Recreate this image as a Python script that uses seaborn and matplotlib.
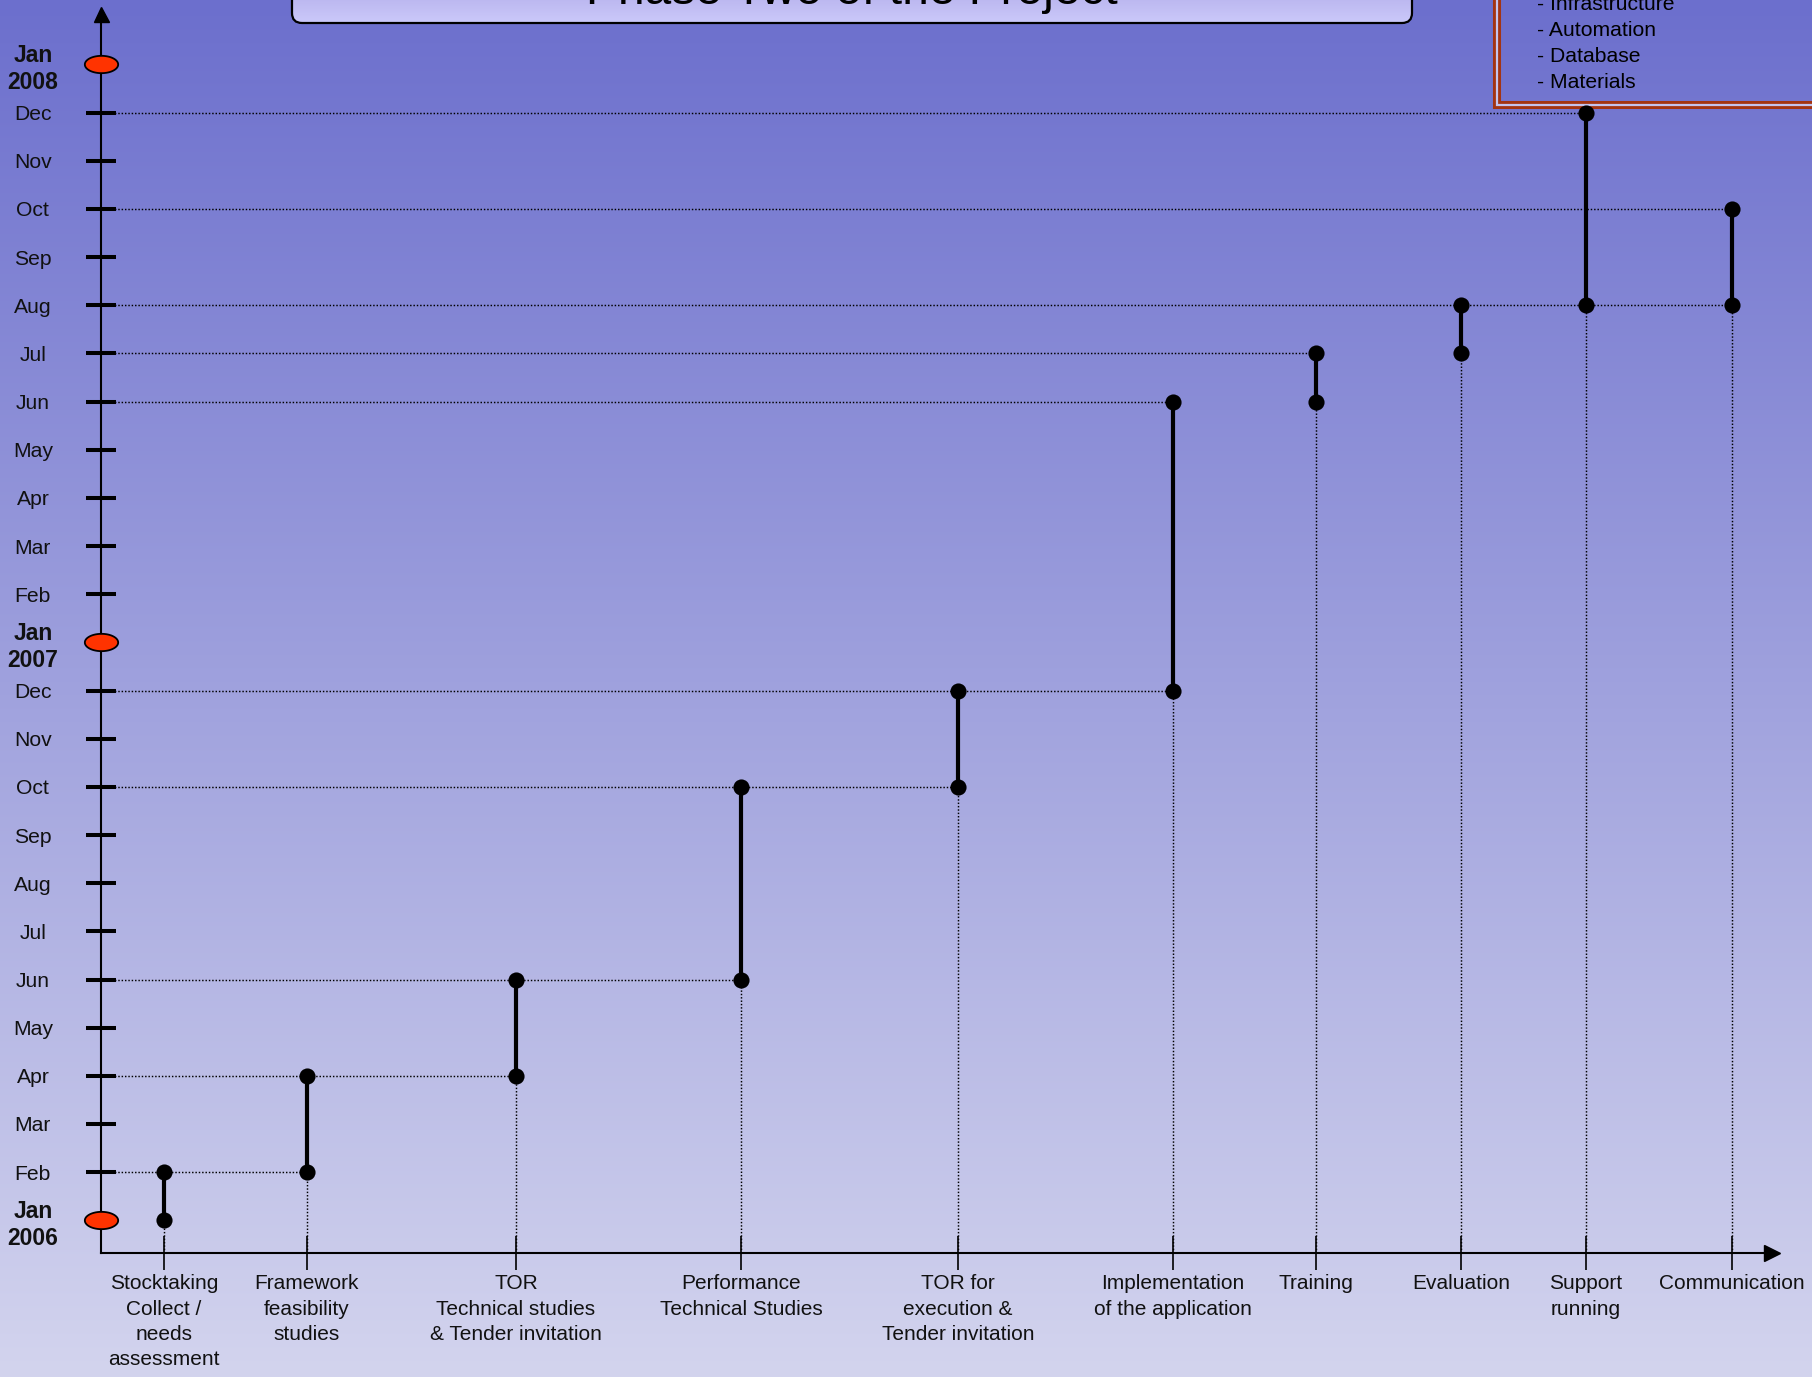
import numpy as np
import pandas as pd
import matplotlib
matplotlib.use("Agg")
import matplotlib.pyplot as plt
import seaborn as sns
from matplotlib.path import Path
from matplotlib.patches import FancyBboxPatch, Rectangle

# ---------------- data ----------------
title = "Phase Two of the Project"
tasks = [
    "Stocktaking\nCollect /\nneeds\nassessment",
    "Framework\nfeasibility\nstudies",
    "TOR\nTechnical studies\n& Tender invitation",
    "Performance\nTechnical Studies",
    "TOR for\nexecution &\nTender invitation",
    "Implementation\nof the application",
    "Training",
    "Evaluation",
    "Support\nrunning",
    "Communication",
]
# months counted from Jan 2006 (=0)
start_month = [0, 1, 3, 5, 9, 11, 17, 18, 19, 19]
end_month = [1, 3, 5, 9, 11, 17, 18, 19, 23, 21]

month_labels = ["Jan\n2006", "Feb", "Mar", "Apr", "May", "Jun", "Jul", "Aug", "Sep", "Oct", "Nov", "Dec",
                "Jan\n2007", "Feb", "Mar", "Apr", "May", "Jun", "Jul", "Aug", "Sep", "Oct", "Nov", "Dec",
                "Jan\n2008"]
year_marks = [0, 12, 24]

# dotted guide lines: month level -> task reached
guide_month = [1, 3, 5, 9, 11, 17, 18, 19, 21, 23]
guide_task = [1, 2, 3, 4, 5, 5, 6, 9, 9, 8]

legend_items = ["- Infrastructure", "- Automation", "- Database", "- Materials"]

# ---------------- layout ----------------
W, H = 1812, 1377
task_pos = [164, 307, 516, 741, 958, 1173, 1316, 1461, 1586, 1732]
x_left, x_right = 100.5, 1772
y_axis_px, y_top_px = 1252.7, 14
m0_px, px_per_month = 1220.3, 48.16
y_lo = (m0_px - y_axis_px) / px_per_month
y_hi = (m0_px - y_top_px) / px_per_month

sns.set_theme(style="white")
plt.rcParams["font.family"] = ["Liberation Sans", "DejaVu Sans"]

fig = plt.figure(figsize=(W / 100, H / 100), dpi=100)

# background layer (pixel coordinates)
bg = fig.add_axes([0, 0, 1, 1], zorder=0)
bg.set_xlim(0, W)
bg.set_ylim(H, 0)
bg.axis("off")
top_c = np.array([108, 111, 205]) / 255
bot_c = np.array([211, 212, 238]) / 255
t = np.linspace(0, 1, 256)[:, None, None]
grad = top_c[None, None, :] * (1 - t) + bot_c[None, None, :] * t
bg.imshow(grad, extent=[0, W, H, 0], aspect="auto", interpolation="bicubic")

# title box
tb = FancyBboxPatch((292, -60), 1120, 83, boxstyle="round,pad=0,rounding_size=10",
                    facecolor="none", edgecolor="black", linewidth=1.6, zorder=3)
bg.add_patch(tb)
tc1 = np.array([150, 140, 215]) / 255
tc2 = np.array([203, 201, 250]) / 255
t2 = np.linspace(0, 1, 128)[:, None, None]
tgrad = tc1[None, None, :] * (1 - t2) + tc2[None, None, :] * t2
im = bg.imshow(tgrad, extent=[292, 1412, 23, -60], aspect="auto", zorder=2)
im.set_clip_path(tb)
bg.set_xlim(0, W)
bg.set_ylim(H, 0)
bg.text(852, 4, title, ha="center", va="baseline", fontsize=34.5, color="black", zorder=4)

# legend box (double border)
bg.add_patch(Rectangle((1496.7, -40), 400, 40 + 104.7, facecolor="none",
                       edgecolor="#a33412", linewidth=5.8, zorder=3))
bg.add_patch(Rectangle((1496.8, -40), 400, 40 + 104.8, facecolor="none",
                       edgecolor="#c4c4ee", linewidth=1.6, zorder=3))
for i, item in enumerate(legend_items):
    bg.text(1537, 9.5 + 26 * i, item, ha="left", va="baseline", fontsize=15.2, color="black", zorder=4)

# main axes
ax = fig.add_axes([x_left / W, (H - y_axis_px) / H, (x_right - x_left) / W,
                   (y_axis_px - y_top_px) / H], zorder=2)
ax.set_facecolor("none")
ax.set_xlim(x_left, x_right)
ax.set_ylim(y_lo, y_hi)
for s in ["top", "right"]:
    ax.spines[s].set_visible(False)
for s in ["left", "bottom"]:
    ax.spines[s].set_color("black")
    ax.spines[s].set_linewidth(1.5)

# arrows
ax.plot([0], [1], marker="^", markersize=10.8, color="black", transform=ax.transAxes, clip_on=False, zorder=6)
ax.plot([1], [0], marker=">", markersize=11.5, color="black", transform=ax.transAxes, clip_on=False, zorder=6)

dotted = (0, (1, 1.3))
# guide lines
ax.hlines(guide_month, x_left, [task_pos[g] for g in guide_task], colors="black",
          linestyles=[dotted], linewidth=1.05, zorder=3)
ax.vlines(task_pos, y_lo, start_month, colors="black", linestyles=[dotted], linewidth=1.05, zorder=3)

# task bars
ax.vlines(task_pos, start_month, end_month, colors="black", linewidth=3.0, zorder=4)

pts = pd.DataFrame({
    "x": task_pos + task_pos,
    "month": start_month + end_month,
})
sns.scatterplot(data=pts, x="x", y="month", ax=ax, color="black", s=135, linewidth=0,
                zorder=7, clip_on=False, legend=False)

# year ellipses
theta = np.linspace(0, 2 * np.pi, 60)
ell = Path(np.column_stack([np.cos(theta), 0.52 * np.sin(theta)]), closed=True)
ax.scatter([x_left] * len(year_marks), year_marks, marker=ell, s=24.0 ** 2,
           facecolor="#ff3300", edgecolor="black", linewidth=1.3, zorder=8, clip_on=False)

ax.set_xlabel("")
ax.set_ylabel("")

# y ticks (months)
ax.set_yticks(range(len(month_labels)))
ax.set_yticklabels(month_labels)
ax.tick_params(axis="y", direction="inout", length=22.3, width=2.9, color="black",
               pad=37.5, labelsize=15.2, labelcolor="#111111", left=True)
for i, lab in enumerate(ax.get_yticklabels()):
    lab.set_horizontalalignment("center")
    if i in year_marks:
        lab.set_fontweight("bold")
        lab.set_fontsize(16.5)
        lab.set_linespacing(1.22)
for i, tk in enumerate(ax.yaxis.get_major_ticks()):
    if i in year_marks:
        tk.tick1line.set_visible(False)

# x ticks (tasks)
ax.set_xticks(task_pos)
ax.set_xticklabels(tasks)
ax.tick_params(axis="x", direction="inout", length=23.8, width=1.2, color="black",
               pad=3.5, labelsize=15, labelcolor="#111111", bottom=True)
for lab in ax.get_xticklabels():
    lab.set_linespacing(1.43)
    lab.set_horizontalalignment("center")

fig.savefig("out.png", dpi=100)
